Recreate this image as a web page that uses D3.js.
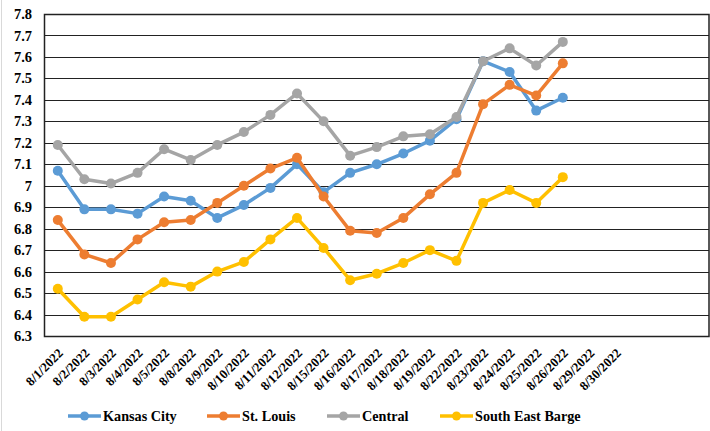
<!DOCTYPE html>
<html>
<head>
<meta charset="utf-8">
<script src="https://cdn.jsdelivr.net/npm/d3@7"></script>
<style>
  html, body { margin: 0; padding: 0; background: #fff; }
  svg { display: block; }
</style>
</head>
<body>
<svg id="chart" width="710" height="431"></svg>
<script>
'use strict';

// ─── Data ─────────────────────────────────────────────────────────────────────
const dates = ['8/1/2022', '8/2/2022', '8/3/2022', '8/4/2022', '8/5/2022', '8/8/2022',
  '8/9/2022', '8/10/2022', '8/11/2022', '8/12/2022', '8/15/2022', '8/16/2022',
  '8/17/2022', '8/18/2022', '8/19/2022', '8/22/2022', '8/23/2022', '8/24/2022',
  '8/25/2022', '8/26/2022', '8/29/2022', '8/30/2022', '', '', ''];

const kansasCity = [7.07, 6.89, 6.89, 6.87, 6.95, 6.93, 6.85, 6.91, 6.99, 7.10,
  6.97, 7.06, 7.10, 7.15, 7.21, 7.31, 7.58, 7.53, 7.35, 7.41];
const stLouis = [6.84, 6.68, 6.64, 6.75, 6.83, 6.84, 6.92, 7.00, 7.08, 7.13,
  6.95, 6.79, 6.78, 6.85, 6.96, 7.06, 7.38, 7.47, 7.42, 7.57];
const central = [7.19, 7.03, 7.01, 7.06, 7.17, 7.12, 7.19, 7.25, 7.33, 7.43,
  7.30, 7.14, 7.18, 7.23, 7.24, 7.32, 7.58, 7.64, 7.56, 7.67];
const southEastBarge = [6.52, 6.39, 6.39, 6.47, 6.55, 6.53, 6.60, 6.645, 6.75, 6.85,
  6.71, 6.56, 6.59, 6.64, 6.70, 6.65, 6.92, 6.98, 6.92, 7.04];

const yTicks = [6.3, 6.4, 6.5, 6.6, 6.7, 6.8, 6.9, 7, 7.1, 7.2, 7.3, 7.4, 7.5, 7.6, 7.7, 7.8];

const series = [
  { name: 'Kansas City',      values: kansasCity,     color: '#5B9BD5' },
  { name: 'St. Louis',        values: stLouis,        color: '#ED7D31' },
  { name: 'Central',          values: central,        color: '#A5A5A5' },
  { name: 'South East Barge', values: southEastBarge, color: '#FFC000' },
];

const FONT = 'Liberation Serif';

// ─── Layout ───────────────────────────────────────────────────────────────────
const M = { left: 44.5, top: 14, right: 709, bottom: 336 };
const svg = d3.select('#chart');

// outer chart-area border (only left edge visible in frame)
svg.append('line')
  .attr('x1', 1.5).attr('x2', 1.5).attr('y1', 0).attr('y2', 431)
  .attr('stroke', '#d9d9d9').attr('stroke-width', 1);

const x = d3.scaleBand()
  .domain(d3.range(dates.length))
  .range([M.left, M.right]);

const y = d3.scaleLinear()
  .domain([6.3, 7.8])
  .range([M.bottom, M.top]);

const cx = i => x(i) + x.bandwidth() / 2;

// gridlines
svg.append('g')
  .selectAll('line')
  .data(yTicks)
  .join('line')
  .attr('x1', M.left).attr('x2', M.right)
  .attr('y1', d => Math.round(y(d)) + 0.5)
  .attr('y2', d => Math.round(y(d)) + 0.5)
  .attr('stroke', '#222')
  .attr('stroke-width', 1.2);

// plot frame
svg.append('rect')
  .attr('x', M.left).attr('y', Math.round(y(7.8)) + 0.5)
  .attr('width', M.right - M.left)
  .attr('height', Math.round(y(6.3)) - Math.round(y(7.8)))
  .attr('fill', 'none').attr('stroke', '#222').attr('stroke-width', 1.5);

// y labels
svg.append('g')
  .attr('font-family', FONT).attr('font-weight', 'bold')
  .selectAll('text')
  .data(yTicks)
  .join('text')
  .attr('x', 32)
  .attr('y', d => y(d))
  .attr('dy', '0.35em')
  .attr('text-anchor', 'end')
  .attr('font-size', 14.5)
  .attr('fill', '#000')
  .text(d => d3.format('')(d));

// x labels
svg.append('g')
  .attr('font-family', FONT).attr('font-weight', 'bold')
  .selectAll('text')
  .data(dates.map((d, i) => ({ d, i })).filter(o => o.d))
  .join('text')
  .attr('transform', o => `translate(${cx(o.i) + 6},${354}) rotate(-45)`)
  .attr('text-anchor', 'end')
  .attr('font-size', 13)
  .attr('fill', '#000')
  .text(o => o.d);

// lines & markers
const line = d3.line()
  .x((d, i) => cx(i))
  .y(d => y(d));

series.forEach(s => {
  const g = svg.append('g');
  g.append('path')
    .attr('d', line(s.values))
    .attr('fill', 'none')
    .attr('stroke', s.color)
    .attr('stroke-width', 3.5)
    .attr('stroke-linejoin', 'round');
  g.selectAll('circle')
    .data(s.values)
    .join('circle')
    .attr('cx', (d, i) => cx(i))
    .attr('cy', d => y(d))
    .attr('r', 5)
    .attr('fill', s.color);
});

// legend
const legendX = [68, 207, 327, 440];
const legend = svg.append('g').attr('font-family', FONT).attr('font-weight', 'bold');
series.forEach((s, k) => {
  const lg = legend.append('g').attr('transform', `translate(${legendX[k]},416)`);
  lg.append('line')
    .attr('x1', 0).attr('x2', 33).attr('y1', 0).attr('y2', 0)
    .attr('stroke', s.color).attr('stroke-width', 3.5);
  lg.append('circle').attr('cx', 16.5).attr('cy', 0).attr('r', 4.5).attr('fill', s.color);
  lg.append('text')
    .attr('x', 35).attr('y', 0).attr('dy', '0.35em')
    .attr('font-size', 14.2).attr('fill', '#000')
    .text(s.name);
});
</script>
</body>
</html>
